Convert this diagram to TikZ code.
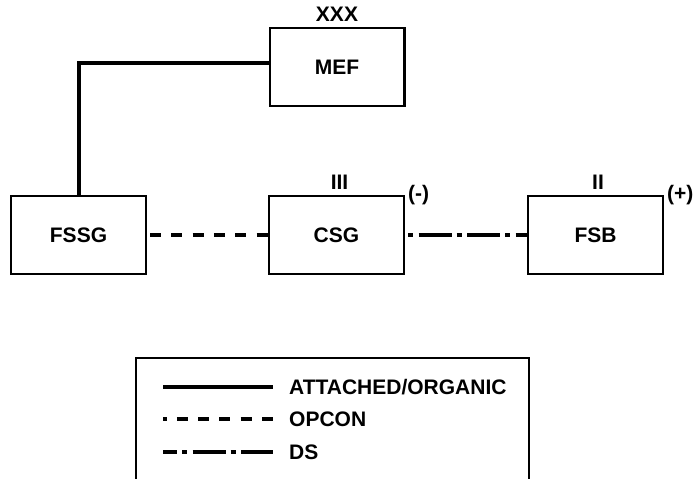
\documentclass[tikz,border=0pt]{standalone}
\usepackage{fontspec}
\setmainfont{Liberation Sans}
\usetikzlibrary{positioning}

\begin{document}
\begin{tikzpicture}[x=1pt, y=1pt, node distance=121pt]
  \tikzstyle{unit}=[draw, line width=2.4pt, minimum width=134.6pt, minimum height=77.6pt, font=\bfseries\fontsize{21}{25}\selectfont]
  \tikzstyle{echelon}=[inner sep=1pt, font=\bfseries\fontsize{21}{25}\selectfont]
  \tikzstyle{legtext}=[anchor=west, inner sep=0pt, font=\bfseries\fontsize{21}{25}\selectfont]
  \tikzstyle{attached}=[line width=4pt]
  \tikzstyle{opcon}=[line width=4pt, dash pattern=on 11pt off 10.3pt]
  \tikzstyle{ds}=[line width=4pt, dash pattern=on 33pt off 5pt on 5pt off 5.5pt]
  \useasboundingbox (0,0) rectangle (694,-479);

  % command relationships
  \node[unit] (fssg) at (78.5,-235) {FSSG};
  \node[unit, right=of fssg] (csg) {CSG};
  \node[unit, right=122pt of csg] (fsb) {FSB};
  \node[unit, above=88pt of csg, xshift=0.5pt] (mef) {MEF};

  \node[echelon, above=4pt of mef] (mefech) {XXX};
  \node[echelon, above=4pt of csg, xshift=3pt] (csgech) {III};
  \node[echelon, above=4pt of fsb, xshift=2.5pt] (fsbech) {II};
  \node[echelon, anchor=west, xshift=2pt] (csgmod) at (csg.north east) {(-)};
  \node[echelon, anchor=west, xshift=2pt] (fsbmod) at (fsb.north east) {(+)};

  \draw[attached] ([yshift=4pt]mef.west) -| (fssg.north);
  \draw[opcon, dash phase=18.3pt] (fssg.east) -- (csg.west);
  \draw[ds, dash phase=35pt] (csg.east) -- (fsb.west);

  % legend
  \draw[line width=2.4pt] (136.2,-485) |- (528.8,-358.2) -- (528.8,-485);
  \node[legtext] (legatt) at (289,-387.5) {ATTACHED/ORGANIC};
  \node[legtext] (legop) at (289,-419.5) {OPCON};
  \node[legtext] (legds) at (289,-452.5) {DS};
  \coordinate (la1) at (163,-387);
  \coordinate (la2) at (273,-387);
  \coordinate (lo1) at (163,-419);
  \coordinate (lo2) at (273,-419);
  \coordinate (ld1) at (163,-452);
  \coordinate (ld2) at (273,-452);
  \draw[attached] (la1) -- (la2);
  \draw[opcon, dash phase=7.5pt] (lo1) -- (lo2);
  \draw[ds, dash phase=19pt] (ld1) -- (ld2);
\end{tikzpicture}
\end{document}
